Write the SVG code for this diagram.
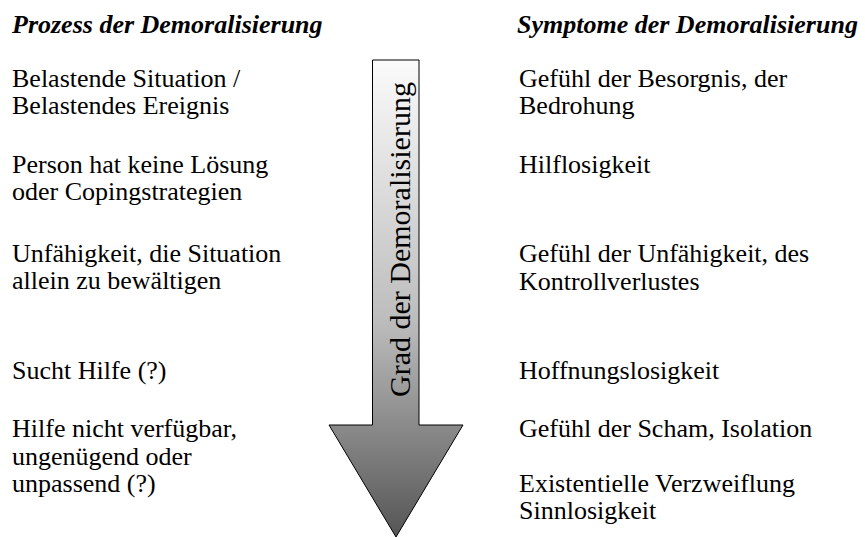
<svg xmlns="http://www.w3.org/2000/svg" width="865" height="538" viewBox="0 0 865 538">
  <style>
    text { font-family: "Liberation Serif", "Times New Roman", serif; fill: #000; }
    .head { font-size: 26px; font-weight: bold; font-style: italic; }
    .item { font-size: 26px; }
    .axis { font-size: 30px; }
  </style>
  <defs>
    <linearGradient id="shade" x1="0" y1="60" x2="0" y2="537" gradientUnits="userSpaceOnUse">
      <stop offset="0" stop-color="#fbfbfb"/>
      <stop offset="0.55" stop-color="#bcbcbc"/>
      <stop offset="1" stop-color="#555555"/>
    </linearGradient>
  </defs>

  <rect width="865" height="538" fill="#fff"/>

  <!-- central arrow: degree of demoralisation -->
  <g id="arrow">
    <polygon points="372.5,60 419,60 419,425 463,425 396,537 329,425 372.5,425" fill="url(#shade)" stroke="#000" stroke-width="1"/>
    <text class="axis" transform="translate(410,397) rotate(-90)">Grad der Demoralisierung</text>
  </g>

  <!-- left column: process -->
  <g id="process">
    <text class="head" x="12" y="33">Prozess der Demoralisierung</text>
    <g id="p1">
      <text class="item" x="12" y="87">Belastende Situation /</text>
      <text class="item" x="12" y="114">Belastendes Ereignis</text>
    </g>
    <g id="p2">
      <text class="item" x="12" y="173">Person hat keine Lösung</text>
      <text class="item" x="12" y="200">oder Copingstrategien</text>
    </g>
    <g id="p3">
      <text class="item" x="12" y="262">Unfähigkeit, die Situation</text>
      <text class="item" x="12" y="289">allein zu bewältigen</text>
    </g>
    <g id="p4">
      <text class="item" x="12" y="379">Sucht Hilfe (?)</text>
    </g>
    <g id="p5">
      <text class="item" x="12" y="437">Hilfe nicht verfügbar,</text>
      <text class="item" x="12" y="465">ungenügend oder</text>
      <text class="item" x="12" y="492">unpassend (?)</text>
    </g>
  </g>

  <!-- right column: symptoms -->
  <g id="symptoms">
    <text class="head" x="517" y="33">Symptome der Demoralisierung</text>
    <g id="s1">
      <text class="item" x="519" y="87">Gefühl der Besorgnis, der</text>
      <text class="item" x="519" y="114">Bedrohung</text>
    </g>
    <g id="s2">
      <text class="item" x="519" y="173">Hilflosigkeit</text>
    </g>
    <g id="s3">
      <text class="item" x="519" y="262">Gefühl der Unfähigkeit, des</text>
      <text class="item" x="519" y="290">Kontrollverlustes</text>
    </g>
    <g id="s4">
      <text class="item" x="519" y="379">Hoffnungslosigkeit</text>
    </g>
    <g id="s5">
      <text class="item" x="519" y="437">Gefühl der Scham, Isolation</text>
    </g>
    <g id="s6">
      <text class="item" x="519" y="492">Existentielle Verzweiflung</text>
      <text class="item" x="519" y="519">Sinnlosigkeit</text>
    </g>
  </g>
</svg>
